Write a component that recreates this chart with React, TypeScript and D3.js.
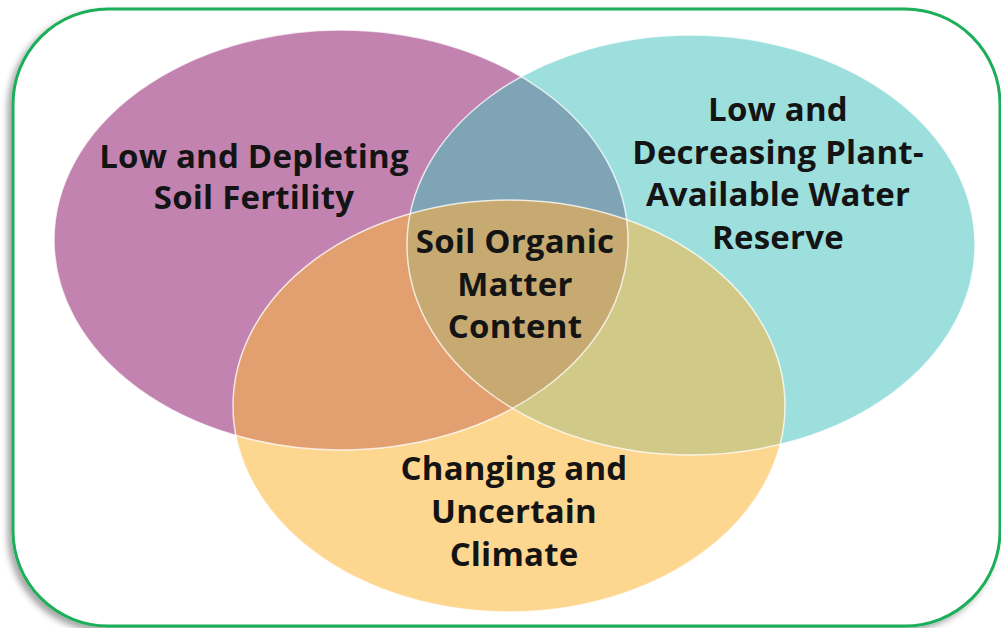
import React, { useEffect, useRef } from "react";
import * as d3 from "d3";

// Sets of the Venn diagram
const setNames = ["fertility", "water", "climate"];
const setColors = ["#c383b0", "#9ddfdd", "#fdd690"];
// Ellipse geometry (cx, cy, rx, ry)
const setCx = [341, 691, 509];
const setCy = [240, 245, 406];
const setRx = [287, 284, 276];
const setRy = [210, 210, 206];

// Overlap regions: which sets intersect, and their colours
const overlapSets = [[0, 1], [0, 2], [1, 2], [0, 1, 2]];
const overlapColors = ["#7fa4b6", "#e29f70", "#d0c987", "#c6aa72"];

// Labels
const labelLines = [
  ["Low and Depleting", "Soil Fertility"],
  ["Low and", "Decreasing Plant-", "Available Water", "Reserve"],
  ["Soil Organic", "Matter", "Content"],
  ["Changing and", "Uncertain", "Climate"],
];
const labelX = [254, 778, 515, 514];
const labelY0 = [168, 121, 253, 480];
const labelStep = [41, 42.5, 42.5, 43];

export default function App() {
  const ref = useRef<SVGSVGElement>(null);

  useEffect(() => {
    const svg = d3.select(ref.current);
    svg.selectAll("*").remove();
    const W = 1001, H = 628;

    const defs = svg.append("defs");
    const f = defs.append("filter").attr("id", "shadow").attr("x", "-5%").attr("y", "-5%").attr("width", "110%").attr("height", "110%");
    f.append("feDropShadow").attr("dx", -4).attr("dy", 4).attr("stdDeviation", 3).attr("flood-color", "#000").attr("flood-opacity", 0.35);

    setNames.forEach((n, i) => {
      defs.append("clipPath").attr("id", "clip-" + i)
        .append("ellipse")
        .attr("cx", setCx[i]).attr("cy", setCy[i]).attr("rx", setRx[i]).attr("ry", setRy[i]);
    });

    svg.append("rect").attr("width", W).attr("height", H).attr("fill", "#fff");

    // frame
    svg.append("rect")
      .attr("x", 13).attr("y", 9).attr("width", 987).attr("height", 617)
      .attr("rx", 95).attr("ry", 95)
      .attr("fill", "#fff")
      .attr("stroke", "#1cae58").attr("stroke-width", 3)
      .attr("filter", "url(#shadow)");

    const g = svg.append("g");
    // base ellipses
    g.selectAll("ellipse.base").data(setNames).join("ellipse")
      .attr("class", "base")
      .attr("cx", (_, i) => setCx[i]).attr("cy", (_, i) => setCy[i])
      .attr("rx", (_, i) => setRx[i]).attr("ry", (_, i) => setRy[i])
      .attr("fill", (_, i) => setColors[i]);

    // overlaps
    overlapSets.forEach((sets, k) => {
      let parent: any = g;
      sets.slice(0, -1).forEach((s) => {
        parent = parent.append("g").attr("clip-path", `url(#clip-${s})`);
      });
      const last = sets[sets.length - 1];
      parent.append("ellipse")
        .attr("cx", setCx[last]).attr("cy", setCy[last])
        .attr("rx", setRx[last]).attr("ry", setRy[last])
        .attr("fill", overlapColors[k]);
    });

    // white outlines
    g.selectAll("ellipse.outline").data(setNames).join("ellipse")
      .attr("class", "outline")
      .attr("cx", (_, i) => setCx[i]).attr("cy", (_, i) => setCy[i])
      .attr("rx", (_, i) => setRx[i]).attr("ry", (_, i) => setRy[i])
      .attr("fill", "none")
      .attr("stroke", "#fff").attr("stroke-opacity", 0.75).attr("stroke-width", 1.5);

    // labels
    labelLines.forEach((lines, i) => {
      const t = svg.append("text")
        .attr("text-anchor", "middle")
        .attr("font-family", "'Open Sans', Lato, sans-serif")
        .attr("font-weight", 700)
        .attr("font-size", 33)
        .attr("letter-spacing", 0.2)
        .attr("fill", "#141414");
      lines.forEach((line, j) => {
        t.append("tspan").attr("x", labelX[i]).attr("y", labelY0[i] + j * labelStep[i]).text(line);
      });
    });
  }, []);

  return (
    <svg
      ref={ref}
      width={1001}
      height={628}
      style={{ position: "absolute", left: 0, top: 0, display: "block" }}
    />
  );
}
